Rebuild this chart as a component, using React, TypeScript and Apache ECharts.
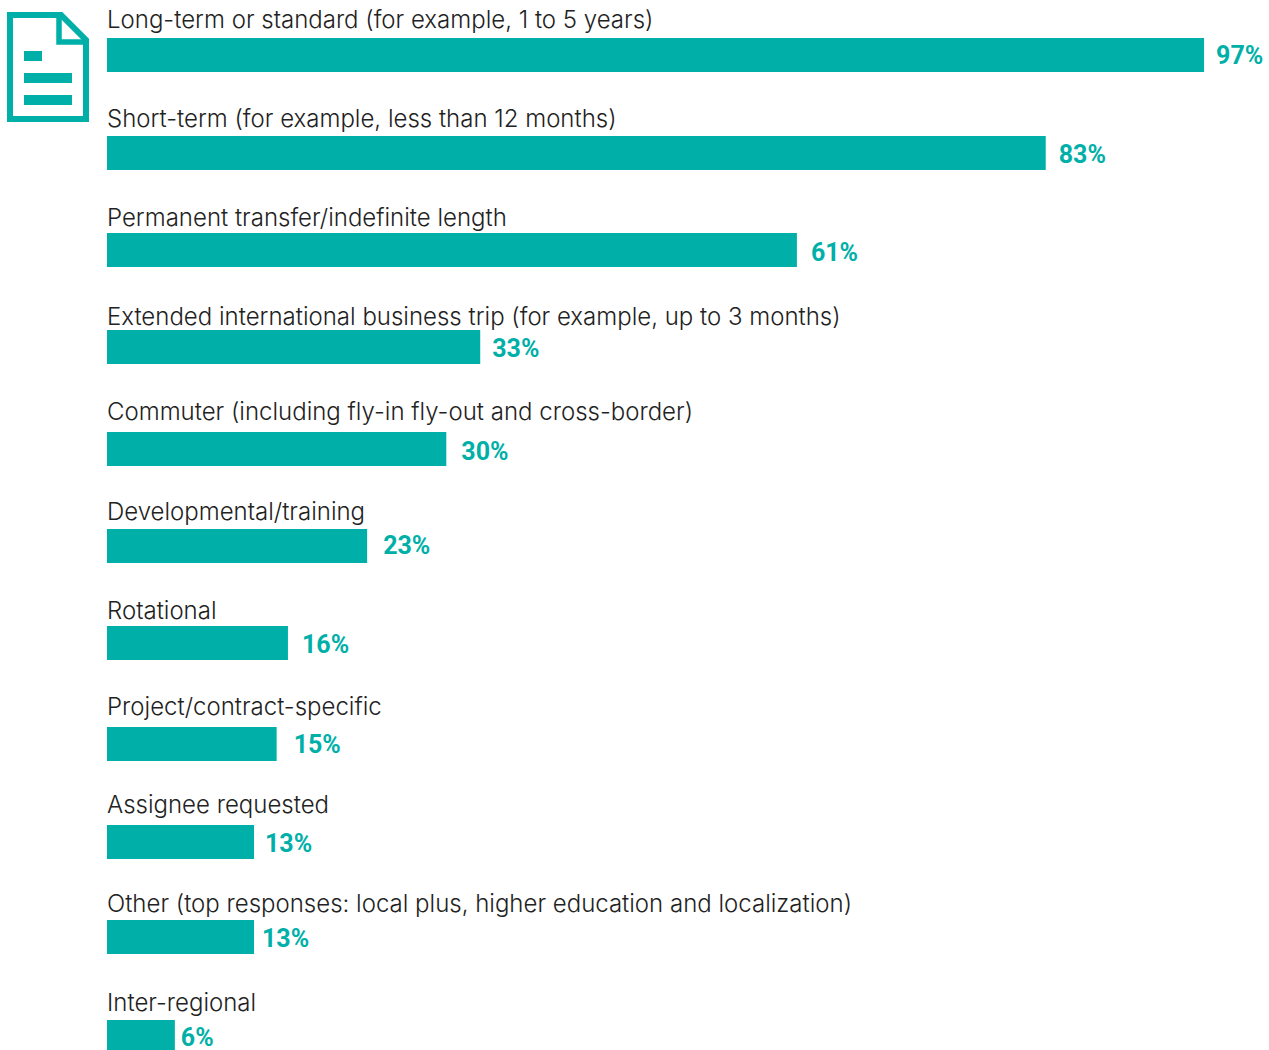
import React, { useEffect, useRef } from "react";
import * as echarts from "echarts";

// Assignment types and the share of respondents offering each one
const categories = [
  "Long-term or standard (for example, 1 to 5 years)",
  "Short-term (for example, less than 12 months)",
  "Permanent transfer/indefinite length",
  "Extended international business trip (for example, up to 3 months)",
  "Commuter (including fly-in fly-out and cross-border)",
  "Developmental/training",
  "Rotational",
  "Project/contract-specific",
  "Assignee requested",
  "Other (top responses: local plus, higher education and localization)",
  "Inter-regional",
];
const shares = [97, 83, 61, 33, 30, 23, 16, 15, 13, 13, 6];

// Hand-tuned row spacing of the layout, in pixels relative to the category band
const barNudge = [0, 0, -1.6, -3, 0.8, -0.5, -1.8, 0.9, 0.6, -2.7, -1];
const captionNudge = [0, 0.7, 1.4, 2.1, -1.2, 0.5, 1.2, -1.1, -1.4, -0.7, 0];
const valueNudge = [-1, 0, 1, 1, 1, -2, 0, -1, 0, 0, -1];
const valueGap = [12, 13, 14, 12, 15, 16, 14, 17, 11, 8, 6];

const TEAL = "#00b0a8";
const INK = "#222222";
const CAPTION_FONT = "Inter, sans-serif";
const VALUE_FONT = "Roboto, sans-serif";
const BAR_HEIGHT = 34;
const CAPTION_OFFSET = 35.7;

export default function App() {
  const ref = useRef<HTMLDivElement>(null);

  useEffect(() => {
    document.body.style.margin = "0";
    const chart = echarts.init(ref.current!, null, { renderer: "svg" });
    chart.setOption({
      animation: false,
      grid: { left: 107, width: 1131, top: 5.85, height: 1081.3 },
      xAxis: { type: "value", min: 0, max: 100, show: false },
      yAxis: { type: "category", data: categories, inverse: true, show: false },
      series: [
        {
          type: "custom",
          clip: false,
          encode: { x: 0, y: 1 },
          data: shares.map((v, i) => [v, i]),
          renderItem: (params: any, api: any) => {
            const i = api.value(1);
            const value = api.value(0);
            const [xEnd, yBand] = api.coord([value, i]);
            const [xStart] = api.coord([0, i]);
            const yBar = yBand + barNudge[i];
            return {
              type: "group",
              children: [
                {
                  type: "rect",
                  shape: { x: xStart, y: Math.round(yBar - BAR_HEIGHT / 2), width: xEnd - xStart, height: BAR_HEIGHT },
                  style: { fill: TEAL },
                },
                {
                  type: "text",
                  x: xStart,
                  y: yBand - CAPTION_OFFSET + captionNudge[i],
                  style: {
                    text: categories[i],
                    fill: INK,
                    fontFamily: CAPTION_FONT,
                    fontWeight: 300,
                    fontSize: 24,
                    align: "left",
                    verticalAlign: "middle",
                  },
                },
                {
                  type: "text",
                  x: xEnd + valueGap[i],
                  y: yBar + valueNudge[i] + 1,
                  style: {
                    text: `${value}%`,
                    fill: TEAL,
                    fontFamily: VALUE_FONT,
                    fontWeight: 700,
                    fontSize: 25,
                    align: "left",
                    verticalAlign: "middle",
                  },
                },
              ],
            };
          },
        },
      ],
      graphic: [
        {
          type: "group",
          children: [
            {
              type: "polygon",
              shape: { points: [[10, 15], [61, 15], [86, 40], [86, 119], [10, 119]] },
              style: { fill: "none", stroke: TEAL, lineWidth: 6 },
            },
            {
              type: "polyline",
              shape: { points: [[59, 15], [59, 42], [86, 42]] },
              style: { fill: "none", stroke: TEAL, lineWidth: 5.5 },
            },
            { type: "rect", shape: { x: 24, y: 51, width: 18, height: 10 }, style: { fill: TEAL } },
            { type: "rect", shape: { x: 24, y: 73, width: 48, height: 10 }, style: { fill: TEAL } },
            { type: "rect", shape: { x: 24, y: 95, width: 48, height: 10 }, style: { fill: TEAL } },
          ],
        },
      ],
    });
    return () => chart.dispose();
  }, []);

  // The plot runs a little past the visible frame, so its last bar is cut at the edge
  return (
    <div style={{ width: 1269, height: 1050, overflow: "hidden", background: "#ffffff" }}>
      <div ref={ref} style={{ width: 1269, height: 1100 }} />
    </div>
  );
}
